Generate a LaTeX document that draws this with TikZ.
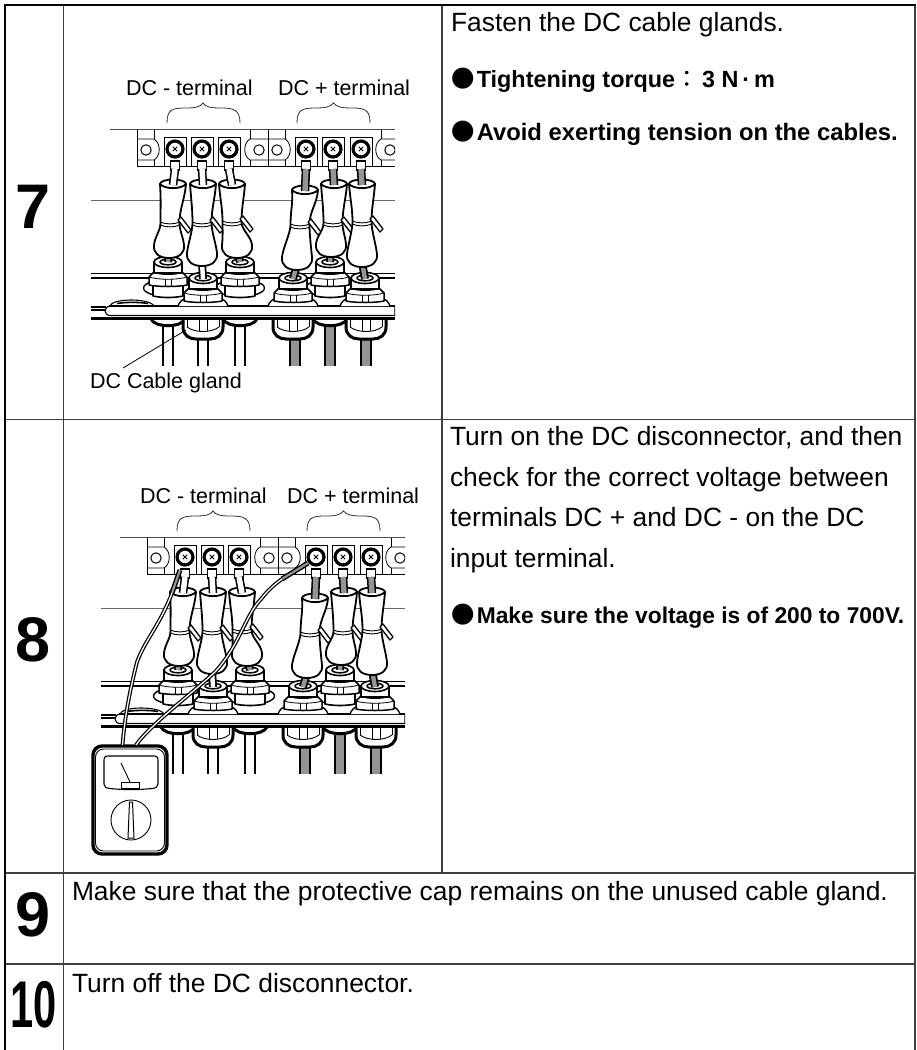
\documentclass[tikz,border=0pt]{standalone}
\usepackage{fontspec}
\setmainfont{Liberation Sans}
\newfontfamily\cjkf{Noto Sans CJK TC}
\newcommand{\fs}[1]{\fontsize{#1}{#1}\selectfont}
\newcommand{\dotb}{{\fs{23.4}\mdseries\cjkf ●}\kern2.4pt}
\tikzset{
  txt/.style={anchor=base west,inner sep=0pt,outer sep=0pt,text=black},
  body/.style={txt,font=\fs{26.4}},
  boldt/.style={txt,font=\fs{23.8}\bfseries},
  lab/.style={txt,font=\fs{21.5}},
  num/.style={anchor=base,inner sep=0pt,outer sep=0pt,font=\fs{63}\bfseries},
  tbl/.style={draw=black!75,line width=1.4pt},
  tblo/.style={draw=black,line width=2.2pt},
  thinl/.style={draw=black,line width=0.8pt},
  ink/.style={draw=black,line width=1.8pt,fill=white,line join=round},
  gl/.style={draw=black,line width=1.3pt,fill=white,line join=round},
  bracel/.style={draw=black!80,line width=0.8pt},
}
\colorlet{wiregray}{black!42}
\newcommand{\cellR}[1]{%
  \draw[thinl] (#1,129.5)--(#1,166) (#1+17,129.5)--(#1+17,139);
  \draw[thinl] (#1,139)--(#1+17,139) .. controls (#1+24,143) and (#1+24,156) .. (#1+17,160)--(#1,160);
  \draw[thinl] (#1+17,160)--(#1+17,166);
  \draw[thinl,line width=1pt] (#1+9,150) circle (5.2);}
\newcommand{\cellL}[1]{%
  \draw[thinl] (#1+18,129.5)--(#1+18,166) (#1,129.5)--(#1,139);
  \draw[thinl] (#1+18,139)--(#1,139) .. controls (#1-7,143) and (#1-7,156) .. (#1,160)--(#1+18,160);
  \draw[thinl] (#1,160)--(#1,166);
  \draw[thinl,line width=1pt] (#1+9,150) circle (5.2);}
\newcommand{\contact}[1]{%
  \draw[thinl,line width=1pt] (#1-11,166)--(#1-11,137)--(#1+11,137)--(#1+11,166);
}
\newcommand{\screw}[1]{%
  \fill[black] (#1,149) circle (9.6);
  \draw[line width=1.3pt,fill=white] (#1-4.5,161)--(#1+4.5,161)--(#1+4.5,170)--(#1-4.5,170)--cycle;
  \fill[white] (#1,149) circle (6.2);
  \draw[line width=0.9pt] (#1-2.2,146.8)--(#1+2.2,151.2) (#1-2.2,151.2)--(#1+2.2,146.8);
}
% boot: {lug x}{top x}{top y}{waist x}{waist y}{bottom x}{bottom y}{wire colour}
\newcommand{\boot}[8]{%
  \draw[ink] (#2,#3) ellipse (13 and 4.5);
  \draw[line width=8.5pt,black] (#1,169)--(#2,#3+1);
  \draw[line width=5.4pt,#8] (#1,169)--(#2,#3+1);
  \draw[ink] (#2-13,#3) .. controls (#2-12,#3+14) and (#4-9.5,#5-14) .. (#4-9.5,#5)
     .. controls (#4-9.5,#5+8) and (#6-14,#7-22) .. (#6-15,#7-13)
     .. controls (#6-16,#7-5) and (#6-10,#7) .. (#6,#7)
     .. controls (#6+10,#7) and (#6+16,#7-5) .. (#6+15,#7-13)
     .. controls (#6+14,#7-22) and (#4+9.5,#5+8) .. (#4+9.5,#5)
     .. controls (#4+9.5,#5-14) and (#2+12,#3+14) .. (#2+13,#3)
     .. controls (#2+8,#3+5.5) and (#2-8,#3+5.5) .. cycle;
  \draw[line width=0.9pt] (#4-10,#5-1) .. controls (#4-4,#5+1.5) and (#4+4,#5+1.5) .. (#4+10,#5-1);
  \draw[line width=0.9pt] (#4-10,#5+2) .. controls (#4-4,#5+4.5) and (#4+4,#5+4.5) .. (#4+10,#5+2);
  \draw[gl] (#4+8,#5-3)--(#4+11,#5-6)--(#4+21,#5+7)--(#4+18,#5+10)--cycle;
}
\newcommand{\stem}[5]{%
  \draw[line width=8pt,black] (#1,#2)--(#3,#4);
  \draw[line width=4.4pt,#5] (#1,#2)--(#3,#4);
}
\newcommand{\glandtop}[2]{%
  \draw[gl,line width=1.6pt] (#1-14,#2)--(#1-14,#2+11)--(#1+14,#2+11)--(#1+14,#2)--cycle;
  \draw[gl,line width=1.6pt] (#1,#2) ellipse (14 and 5.5);
  \draw[line width=1.5pt,fill=white] (#1,#2) ellipse (8 and 2.8);
}
\newcommand{\glandnut}[2]{%
  \draw[gl,line width=1.5pt] (#1-14,#2+10)--(#1-19,#2+15)--(#1-19,#2+23) .. controls (#1-10,#2+25) and (#1+10,#2+25) .. (#1+19,#2+23)--(#1+19,#2+15)--(#1+14,#2+10) .. controls (#1+8,#2+13) and (#1-8,#2+13) .. cycle;
  \draw[line width=0.8pt] (#1-19,#2+15) .. controls (#1-10,#2+18) and (#1+10,#2+18) .. (#1+19,#2+15);
  \draw[line width=0.8pt] (#1-3,#2+17)--(#1-3,#2+24) (#1+3,#2+17)--(#1+3,#2+24);
}
\newcommand{\backgland}[1]{%
  \draw[gl,line width=1.4pt] (#1,288) ellipse (24.5 and 8.5);
  \draw[gl,line width=1.6pt] (#1-15,282)--(#1-15,296) .. controls (#1-6,298) and (#1+6,298) .. (#1+15,296)--(#1+15,282)--cycle;
  \glandnut{#1}{262}\glandtop{#1}{262}
}
\newcommand{\frontgland}[1]{%
  \draw[gl,line width=1.4pt] (#1-25,306) .. controls (#1-22,297) and (#1-12,296) .. (#1,296) .. controls (#1+12,296) and (#1+22,297) .. (#1+25,306);
  \glandnut{#1}{278}\glandtop{#1}{278}
}
\newcommand{\backcup}[2]{%
  \fill[#2] (#1-4,322) rectangle (#1+4,366);
  \draw[line width=1.9pt] (#1-5,322)--(#1-5,366) (#1+5,322)--(#1+5,366);
  \draw[line width=3pt,fill=white] (#1-17,319) .. controls (#1-13,328) and (#1+13,328) .. (#1+17,319);
}
\newcommand{\frontcup}[3]{%
  \fill[#3] (#2-4,335) rectangle (#2+4,366);
  \draw[line width=1.9pt] (#2-5,335)--(#2-5,366) (#2+5,335)--(#2+5,366);
  \draw[line width=3pt,fill=white] (#1-20,319)--(#1-20,327) .. controls (#1-20,335) and (#1-14,339) .. (#1-7,339)--(#1+7,339) .. controls (#1+14,339) and (#1+20,335) .. (#1+20,327)--(#1+20,319);
  \draw[line width=0.9pt] (#1-16,327) .. controls (#1-8,333) and (#1+8,333) .. (#1+16,327);
  \draw[line width=0.9pt] (#1-4,319)--(#1-4,331) (#1+4,319)--(#1+4,331);
  \draw[line width=0.9pt] (#1-16,319)--(#1-16,327) (#1+16,319)--(#1+16,327);
}
\newcommand{\panel}{%
  \begin{scope}
  \clip (85,100) rectangle (395,400);
  \draw[draw=black!70,line width=0.9pt] (110,129.5)--(395,129.5);
  \draw[draw=black!60,line width=1.3pt] (91,200.5)--(395,200.5);
  \draw[line width=1.2pt] (91,273.5)--(395,273.5) (91,278)--(395,278);
  \draw[thinl] (137,166)--(395,166);
  \cellR{137}\cellL{250}\cellR{268}\cellL{381}
  \contact{175}\contact{202}\contact{229}\contact{306}\contact{333}\contact{361}
  \screw{175}\screw{202}\screw{229}\screw{306}\screw{333}\screw{361}
  \backcup{168}{white}\backcup{240}{white}\backcup{330}{wiregray}
  \frontcup{203}{203}{white}\frontcup{293}{295}{wiregray}\frontcup{366}{366}{wiregray}
  \backgland{168}\backgland{240}\backgland{330}
  \stem{169}{250}{168}{262}{wiregray}\stem{237}{250}{240}{262}{wiregray}\stem{331}{250}{330}{262}{wiregray}
  \boot{175}{173}{184}{170}{223}{169}{258}{white}
  \boot{229}{232}{184}{232}{222}{237}{258}{white}
  \boot{333}{334}{184}{333}{223}{331}{257}{wiregray}
  % sheet
  \fill[white] (105,306) rectangle (395,317);
  \draw[line width=1.1pt] (91,307)--(106,307) (91,310)--(106,310);
  \draw[line width=1.1pt,fill=white] (110,306) .. controls (112,298) and (150,298) .. (154,306);
  \draw[line width=1.6pt] (117,303.5) .. controls (125,302) and (140,302) .. (148,303.5);
  \draw[line width=1.1pt,fill=white] (111,306) .. controls (103,306) and (103,316) .. (111,315.5)--(395,315.5)--(395,306);
  \draw[line width=2.8pt] (109,306)--(395,306);
  \draw[line width=3pt] (91,318.5)--(395,318.5);
  \frontgland{203}\frontgland{293}\frontgland{365}
  \stem{202}{262}{203}{279}{white}\stem{297}{265}{293}{279}{wiregray}\stem{362}{262}{365}{279}{wiregray}
  \boot{202}{203}{184}{202}{223}{202}{266}{white}
  \boot{306}{305}{190}{300}{225}{297}{270}{wiregray}
  \boot{361}{362}{184}{362}{222}{362}{267}{wiregray}
  \end{scope}
}
\newcommand{\braces}{%
  \draw[bracel] (167,123) .. controls (167,110) and (172,108) .. (185,108) .. controls (196,108) and (200,107) .. (203,103) .. controls (206,107) and (210,108) .. (221,108) .. controls (234,108) and (240,110) .. (240,123);
  \draw[bracel] (297,123) .. controls (297,110) and (302,108) .. (315,108) .. controls (326,108) and (330,107) .. (333.5,103) .. controls (337,107) and (341,108) .. (352,108) .. controls (365,108) and (370,110) .. (370,123);
}
\begin{document}
\begin{tikzpicture}[x=1pt,y=-1pt]
\useasboundingbox (0,0) rectangle (917,1050);
\fill[white] (0,0) rectangle (917,1050);
\draw[tbl] (63.7,5)--(63.7,1050) (442,5)--(442,873) (915,5)--(915,1050);
\draw[tbl] (4.6,419.5)--(915,419.5) (4.6,873)--(915,873) (4.6,964)--(915,964);
\draw[tblo] (4.6,1050)--(4.6,5)--(915.5,5);
\node[num] (n7) at (33.5,228) {7};
\node[num] (n8) at (33.5,661) {8};
\node[num] (n9) at (33.5,936) {9};
\node[num,xscale=0.66,yscale=1.05] (n10) at (33.5,1027) {10};
\begin{scope}\panel\braces\end{scope}
\node[lab] (l1) at (126,95) {DC - terminal};
\node[lab] (l2) at (278,95) {DC + terminal};
\node[lab] (l3) at (90,388) {DC Cable gland};
\coordinate (g1) at (186,330);
\coordinate (g2) at (123,368);
\draw[line width=0.8pt] (g1)--(g2);
\begin{scope}[shift={(10,408)}]\panel\braces\end{scope}
\node[lab] (l4) at (140,503) {DC - terminal};
\node[lab] (l5) at (287,503) {DC + terminal};
\node[draw=black,line width=3.4pt,rounded corners=9pt,minimum width=74pt,minimum height=108pt,inner sep=0pt,fill=white] (meter) at (130,800) {};
\coordinate (pa) at (180,570);
\coordinate (pb) at (308,563);
\coordinate (pa2) at (172,593);
\coordinate (pb2) at (282,579);
\foreach \w/\c in {3.8pt/black,1.3pt/white}{
  \draw[line width=\w,\c] (122.5,745) .. controls (125,715) and (130,690) .. (137,662) .. controls (145,640) and (160,625) .. (pa2);
  \draw[line width=\w,\c] (136,745) .. controls (150,725) and (190,695) .. (215,672) .. controls (240,645) and (245,615) .. (262,598) .. controls (268,590) and (275,584) .. (pb2);
}
\draw[line width=5pt,black] (pa2)--(pa);
\draw[line width=2.2pt,wiregray] (pa2)--(pa);
\draw[line width=5pt,black] (pb2)--(pb);
\draw[line width=2.2pt,wiregray] (pb2)--(pb);
\draw[line width=0.9pt,fill=white,rounded corners=8pt] (95.5,749)--(164.5,749)--(164.5,851)--(95.5,851)--cycle;
\draw[line width=1.1pt,fill=white] (108,756) -- (154,756) .. controls (158,756) and (158,758) .. (158,762) -- (158,784) .. controls (158,787) and (156,788) .. (152,788.5) .. controls (138,790) and (124,790) .. (110,788.5) .. controls (106,788) and (104,787) .. (104,784) -- (104,762) .. controls (104,758) and (104,756) .. (108,756) -- cycle;
\draw[line width=0.9pt] (121,763)--(130,782);
\draw[line width=0.9pt,fill=white] (121,782) rectangle (139,788);
\node[draw=black,line width=0.9pt,circle,minimum size=40pt,inner sep=0pt] (dial) at (131,820) {};
\draw[line width=1pt,fill=white] (129.5,802)--(132.5,802)--(134,838)--(128,838)--cycle;
\node[body] (t1) at (451,31) {Fasten the DC cable glands.};
\node[boldt,font=\fs{23.4}\bfseries] (t2) at (451,87) {\dotb Tightening torque{\mdseries\cjkf ：}\kern3.5pt 3 N\,·\,m};
\node[boldt] (t3) at (451,140.7) {\dotb Avoid exerting tension on the cables.};
\node[body] (t4) at (450,445.7) {Turn on the DC disconnector, and then};
\node[body] (t5) at (450,486.7) {check for the correct voltage between};
\node[body] (t6) at (450,526.7) {terminals DC + and DC - on the DC};
\node[body] (t7) at (450,567.7) {input terminal.};
\node[txt,font=\fs{22.8}\bfseries] (t8) at (451,623) {\dotb Make sure the voltage is of 200 to 700V.};
\node[body] (t9) at (72,900) {Make sure that the protective cap remains on the unused cable gland.};
\node[body] (t10) at (72,992) {Turn off the DC disconnector.};
\end{tikzpicture}
\end{document}
